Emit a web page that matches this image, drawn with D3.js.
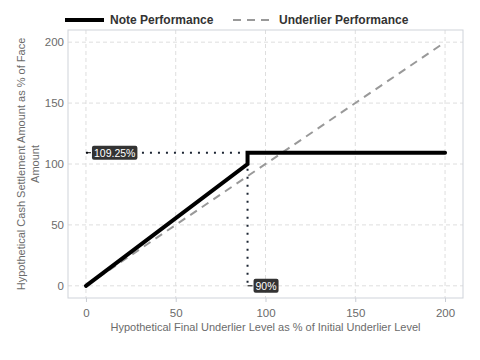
<!DOCTYPE html>
<html><head><meta charset="utf-8">
<script src="https://cdn.jsdelivr.net/npm/d3@7"></script>
<style>body{margin:0;background:#fff}svg{font-family:"Liberation Sans",Arial,sans-serif}</style>
</head><body><div id="chart"></div>
<script>
const noteX = [0, 90, 90, 200];
const noteY = [0, 100, 109.25, 109.25];
const underX = [0, 200];
const underY = [0, 200];
const xTicks = [0, 50, 100, 150, 200];
const yTicks = [0, 50, 100, 150, 200];
const barrier = 90;
const capValue = 109.25;
const labelCap = "109.25%";
const labelBarrier = "90%";
const legendLabels = ["Note Performance", "Underlier Performance"];

const W = 480, H = 360;
const m = {l: 68, r: 17, t: 30, b: 62};
const svg = d3.select("#chart").append("svg").attr("width", W).attr("height", H);
const x = d3.scaleLinear().domain([-10, 210]).range([m.l, W - m.r]);
const y = d3.scaleLinear().domain([-10, 210]).range([H - m.b, m.t]);

// grid
const g = svg.append("g");
g.selectAll(".gx").data(xTicks).enter().append("line")
  .attr("x1", d => x(d)).attr("x2", d => x(d)).attr("y1", m.t).attr("y2", H - m.b)
  .attr("stroke", "#dedede").attr("stroke-dasharray", "4,3").attr("stroke-width", 1);
g.selectAll(".gy").data(yTicks).enter().append("line")
  .attr("y1", d => y(d)).attr("y2", d => y(d)).attr("x1", m.l).attr("x2", W - m.r)
  .attr("stroke", "#dedede").attr("stroke-dasharray", "4,3").attr("stroke-width", 1);

// axes
const xAxis = svg.append("g").attr("transform", `translate(0,${H - m.b})`)
  .call(d3.axisBottom(x).tickValues(xTicks).tickSize(4).tickPadding(7));
const yAxis = svg.append("g").attr("transform", `translate(${m.l},0)`)
  .call(d3.axisLeft(y).tickValues(yTicks).tickSize(0).tickPadding(4));
[xAxis, yAxis].forEach(a => {
  a.select(".domain").remove();
  a.selectAll("line").attr("stroke", "#c8ccd4");
  a.selectAll("text").attr("fill", "#6b6b6b").style("font-size", "11.5px")
    .style("font-family", '"Liberation Sans",Arial,sans-serif');
});

// panel border
svg.append("rect").attr("x", m.l).attr("y", m.t)
  .attr("width", W - m.l - m.r).attr("height", H - m.t - m.b)
  .attr("fill", "none").attr("stroke", "#cfd3da").attr("stroke-width", 1);

// underlier
const lineGen = d3.line().x(d => x(d[0])).y(d => y(d[1]));
svg.append("path").datum(underX.map((v, i) => [v, underY[i]]))
  .attr("d", lineGen).attr("fill", "none").attr("stroke", "#999")
  .attr("stroke-width", 2).attr("stroke-dasharray", "8,6");

// dotted reference lines
svg.append("line").attr("x1", x(0)).attr("x2", x(barrier)).attr("y1", y(capValue)).attr("y2", y(capValue))
  .attr("stroke", "#1c2533").attr("stroke-width", 2).attr("stroke-dasharray", "2,6");
svg.append("line").attr("x1", x(barrier)).attr("x2", x(barrier)).attr("y1", y(capValue)).attr("y2", y(0))
  .attr("stroke", "#1c2533").attr("stroke-width", 2).attr("stroke-dasharray", "2,6");

// note
svg.append("path").datum(noteX.map((v, i) => [v, noteY[i]]))
  .attr("d", lineGen).attr("fill", "none").attr("stroke", "#000")
  .attr("stroke-width", 4).attr("stroke-linecap", "round");

// labels
function label(px, py, dx, text) {
  const gg = svg.append("g");
  gg.append("line").attr("x1", px).attr("x2", px + dx).attr("y1", py).attr("y2", py)
    .attr("stroke", "#000").attr("stroke-width", 1);
  const t = gg.append("text").attr("x", px + dx + 3).attr("y", py + 4)
    .attr("fill", "#fff").style("font-size", "10.5px").text(text);
  const bb = t.node().getBBox();
  gg.insert("rect", "text").attr("x", bb.x - 2).attr("y", py - 7)
    .attr("width", bb.width + 4).attr("height", 14).attr("rx", 2)
    .attr("fill", "#333");
}
label(x(0), y(capValue), 5, labelCap);
label(x(barrier), y(0), 5, labelBarrier);

// legend
const lg = svg.append("g");
lg.append("line").attr("x1", 65).attr("x2", 104).attr("y1", 20).attr("y2", 20)
  .attr("stroke", "#000").attr("stroke-width", 4);
lg.append("text").attr("x", 110).attr("y", 24).text(legendLabels[0])
  .style("font-size", "12px").style("font-weight", "bold").attr("fill", "#333");
lg.append("line").attr("x1", 233).attr("x2", 270).attr("y1", 20).attr("y2", 20)
  .attr("stroke", "#999").attr("stroke-width", 2).attr("stroke-dasharray", "8,6");
lg.append("text").attr("x", 279).attr("y", 24).text(legendLabels[1])
  .style("font-size", "12px").style("font-weight", "bold").attr("fill", "#333");

// axis titles
svg.append("text").attr("x", (m.l + W - m.r) / 2).attr("y", 331).attr("text-anchor", "middle")
  .attr("fill", "#6b6b6b").style("font-size", "11px")
  .text("Hypothetical Final Underlier Level as % of Initial Underlier Level");
const yt = svg.append("text").attr("transform", `translate(25,${(m.t + H - m.b) / 2}) rotate(-90)`)
  .attr("text-anchor", "middle").attr("fill", "#6b6b6b").style("font-size", "11px");
yt.append("tspan").attr("x", 0).attr("dy", 0).text("Hypothetical Cash Settlement Amount as % of Face");
yt.append("tspan").attr("x", 0).attr("dy", 14).text("Amount");
</script></body></html>
